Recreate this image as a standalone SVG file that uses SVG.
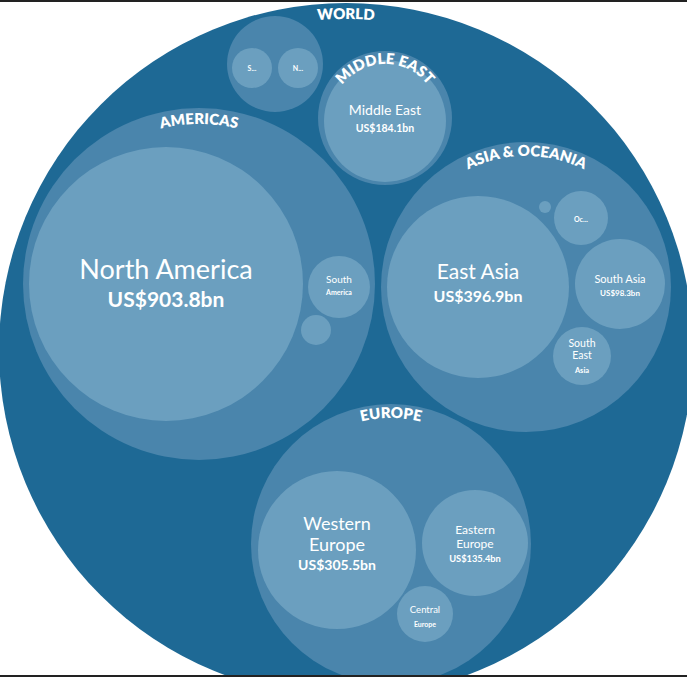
<svg xmlns="http://www.w3.org/2000/svg" width="687" height="677" viewBox="0 0 687 677">
  <style>
    .world { fill: #1e6995; }
    .grp { fill: #4a85ac; }
    .leaf { fill: #6b9fbf; }
    text { fill: #ffffff; font-family: Lato, "Noto Sans", "Liberation Sans", sans-serif; text-anchor: middle; }
    .b { font-weight: 700; }
    .arc { font-weight: 800; font-size: 15px; }
  </style>
  <defs>
    <path id="p-world" d="M 15 350 A 331 331 0 0 1 677 350"/>
    <path id="p-amer" d="M 39 284 A 160 160 0 0 1 359 284"/>
    <path id="p-me" d="M 331 118 A 54 54 0 0 1 439 118"/>
    <path id="p-asia" d="M 395 287 A 131 131 0 0 1 657 287"/>
    <path id="p-eur" d="M 265 544 A 126 126 0 0 1 517 544"/>
  </defs>
  <rect x="0" y="0" width="687" height="677" fill="#ffffff"/>
  <g id="world">
    <circle class="world" cx="346" cy="350" r="347"/>
    <text class="arc" font-size="16"><textPath href="#p-world" startOffset="50%">WORLD</textPath></text>
  </g>
  <g id="unnamed-group">
    <circle class="grp" cx="275" cy="64" r="48"/>
  </g>
  <g id="s-leaf">
    <circle class="leaf" cx="252" cy="68" r="20"/>
    <text class="b" x="252" y="71" font-size="7">S...</text>
  </g>
  <g id="n-leaf">
    <circle class="leaf" cx="298" cy="68" r="20"/>
    <text class="b" x="298" y="71" font-size="7">N...</text>
  </g>
  <g id="middle-east-group">
    <circle class="grp" cx="385" cy="118" r="67"/>
  </g>
  <g id="middle-east">
    <circle class="leaf" cx="385" cy="121" r="61"/>
    <text x="385" y="115" font-size="14">Middle East</text>
    <text class="b" x="385" y="132" font-size="10.5">US$184.1bn</text>
  </g>
  <g id="middle-east-group-label">
    <text class="arc"><textPath href="#p-me" startOffset="50%">MIDDLE EAST</textPath></text>
  </g>
  <g id="americas">
    <circle class="grp" cx="199" cy="284" r="176"/>
    <text class="arc"><textPath href="#p-amer" startOffset="50%">AMERICAS</textPath></text>
  </g>
  <g id="north-america">
    <circle class="leaf" cx="166" cy="284" r="137"/>
    <text x="166" y="279" font-size="27">North America</text>
    <text class="b" x="166" y="307" font-size="21">US$903.8bn</text>
  </g>
  <g id="south-america">
    <circle class="leaf" cx="339" cy="287" r="31"/>
    <text x="339" y="283" font-size="10">South</text>
    <text class="b" x="339" y="295" font-size="7">America</text>
  </g>
  <g id="americas-small">
    <circle class="leaf" cx="316" cy="330" r="15"/>
  </g>
  <g id="asia-oceania">
    <circle class="grp" cx="526" cy="287" r="145"/>
    <text class="arc"><textPath href="#p-asia" startOffset="50%">ASIA &amp; OCEANIA</textPath></text>
  </g>
  <g id="east-asia">
    <circle class="leaf" cx="478" cy="287" r="91"/>
    <text x="478" y="279" font-size="21">East Asia</text>
    <text class="b" x="478" y="302" font-size="16">US$396.9bn</text>
  </g>
  <g id="oceania">
    <circle class="leaf" cx="581" cy="218" r="27"/>
    <text class="b" x="581" y="222" font-size="7">Oc...</text>
  </g>
  <g id="asia-small">
    <circle class="leaf" cx="545" cy="207" r="6"/>
  </g>
  <g id="south-asia">
    <circle class="leaf" cx="620" cy="284" r="45"/>
    <text x="620" y="283" font-size="11">South Asia</text>
    <text class="b" x="620" y="296" font-size="8">US$98.3bn</text>
  </g>
  <g id="south-east-asia">
    <circle class="leaf" cx="582" cy="356" r="29"/>
    <text x="582" y="347" font-size="10.5">South</text>
    <text x="582" y="359" font-size="10.5">East</text>
    <text class="b" x="582" y="373" font-size="7.5">Asia</text>
  </g>
  <g id="europe">
    <circle class="grp" cx="391" cy="544" r="140"/>
    <text class="arc"><textPath href="#p-eur" startOffset="50%">EUROPE</textPath></text>
  </g>
  <g id="western-europe">
    <circle class="leaf" cx="337" cy="550" r="79"/>
    <text x="337" y="530" font-size="18">Western</text>
    <text x="337" y="551" font-size="18">Europe</text>
    <text class="b" x="337" y="570" font-size="14">US$305.5bn</text>
  </g>
  <g id="eastern-europe">
    <circle class="leaf" cx="475" cy="543" r="53"/>
    <text x="475" y="534" font-size="12">Eastern</text>
    <text x="475" y="548" font-size="12">Europe</text>
    <text class="b" x="475" y="562" font-size="9.3">US$135.4bn</text>
  </g>
  <g id="central-europe">
    <circle class="leaf" cx="425" cy="614" r="28"/>
    <text x="425" y="613" font-size="9.5">Central</text>
    <text class="b" x="425" y="627" font-size="7">Europe</text>
  </g>
  <g id="connectors"></g>
  <rect x="0" y="0" width="687" height="2" fill="#222222"/>
  <rect x="0" y="675" width="687" height="2" fill="#222222"/>
</svg>
